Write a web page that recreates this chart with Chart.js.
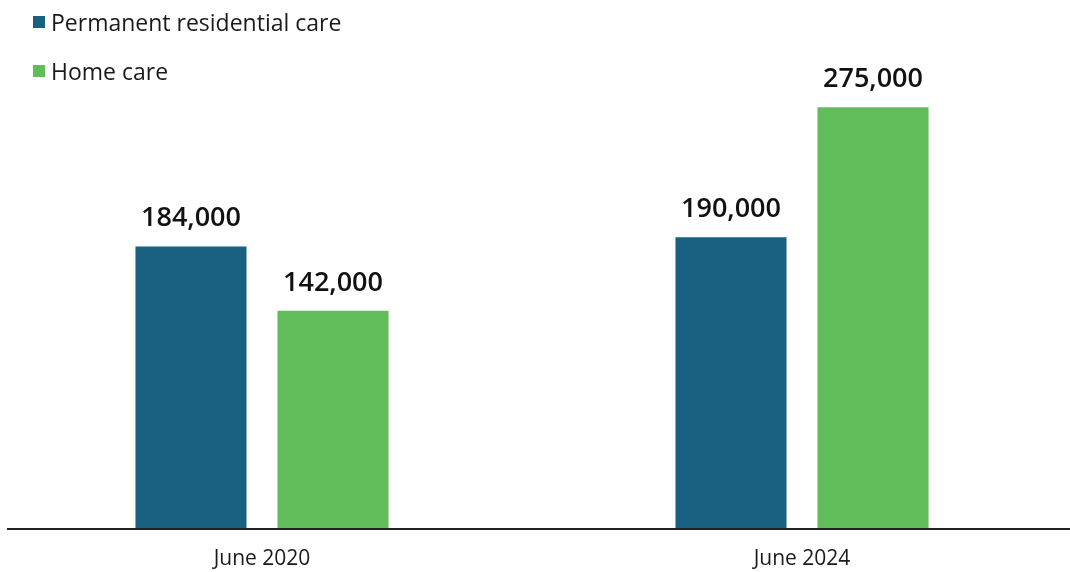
<!DOCTYPE html>
<html>
<head>
<meta charset="utf-8">
<script src="https://cdn.jsdelivr.net/npm/chart.js@4"></script>
<style>
    html, body { margin: 0; padding: 0; background: #fff; overflow: hidden; }
    .frame { position: relative; width: 1070px; height: 572px; overflow: hidden; }
    .plot { position: absolute; left: -8px; top: 0; width: 1080px; height: 572px; }
    .legend { position: absolute; left: 33px; top: 0; font-family: 'Open Sans', sans-serif; font-size: 23px; color: #1a1a1a; }
    .legend-item { position: absolute; left: 0; white-space: nowrap; height: 30px; line-height: 30px; }
    .legend-item span.box { position: absolute; left: 0; top: 9px; width: 12px; height: 12px; }
    .legend-item span.text { position: absolute; left: 18px; top: 0; }
</style>
</head>
<body>
<div class="frame">
    <div class="plot"><canvas id="careChart"></canvas></div>
    <div class="legend" id="legend"></div>
</div>
<script>
const periods = ['June 2020', 'June 2024'];
const residentialCare = [184000, 190000];
const homeCare = [142000, 275000];

const seriesNames = ['Permanent residential care', 'Home care'];
const seriesColors = ['#1a6080', '#61bd5a'];

// value labels above each bar
const barLabels = {
    id: 'barLabels',
    afterDatasetsDraw(chart) {
        const ctx = chart.ctx;
        ctx.save();
        ctx.font = '600 27px "Open Sans", sans-serif';
        ctx.fillStyle = '#111';
        ctx.textAlign = 'center';
        ctx.textBaseline = 'alphabetic';
        chart.data.datasets.forEach((ds, i) => {
            chart.getDatasetMeta(i).data.forEach((bar, j) => {
                ctx.fillText(ds.data[j].toLocaleString('en-US'), bar.x, bar.y - 20);
            });
        });
        ctx.restore();
    }
};

// baseline under the bars
const baseLine = {
    id: 'baseLine',
    afterDatasetsDraw(chart) {
        const ctx = chart.ctx;
        const y = chart.chartArea.bottom + 1;
        ctx.save();
        ctx.strokeStyle = '#222';
        ctx.lineWidth = 2;
        ctx.beginPath();
        ctx.moveTo(15, y);
        ctx.lineTo(chart.width, y);
        ctx.stroke();
        ctx.restore();
    }
};

function buildLegend() {
    const legend = document.getElementById('legend');
    seriesNames.forEach((name, i) => {
        const item = document.createElement('div');
        item.className = 'legend-item';
        item.style.top = (7 + i * 49) + 'px';
        item.innerHTML = '<span class="box" style="background:' + seriesColors[i] + '"></span><span class="text">' + name + '</span>';
        legend.appendChild(item);
    });
}

function createCareChart() {
    const ctx = document.getElementById('careChart').getContext('2d');
    new Chart(ctx, {
        type: 'bar',
        data: {
            labels: periods,
            datasets: [{
                label: seriesNames[0],
                data: residentialCare,
                backgroundColor: seriesColors[0]
            }, {
                label: seriesNames[1],
                data: homeCare,
                backgroundColor: seriesColors[1]
            }]
        },
        options: {
            responsive: true,
            maintainAspectRatio: false,
            animation: false,
            layout: { padding: 0 },
            datasets: {
                bar: {
                    categoryPercentage: 0.526,
                    barPercentage: 0.782
                }
            },
            plugins: {
                legend: { display: false },
                tooltip: { enabled: false }
            },
            scales: {
                x: {
                    grid: { display: false },
                    border: { display: false },
                    ticks: {
                        color: '#1a1a1a',
                        padding: 10,
                        font: { family: 'Open Sans', size: 21 }
                    },
                    afterFit(scale) { scale.height = 44; }
                },
                y: {
                    display: false,
                    beginAtZero: true,
                    min: 0,
                    max: 345000
                }
            }
        },
        plugins: [barLabels, baseLine]
    });
}

document.addEventListener('DOMContentLoaded', () => {
    buildLegend();
    createCareChart();
});
</script>
</body>
</html>
